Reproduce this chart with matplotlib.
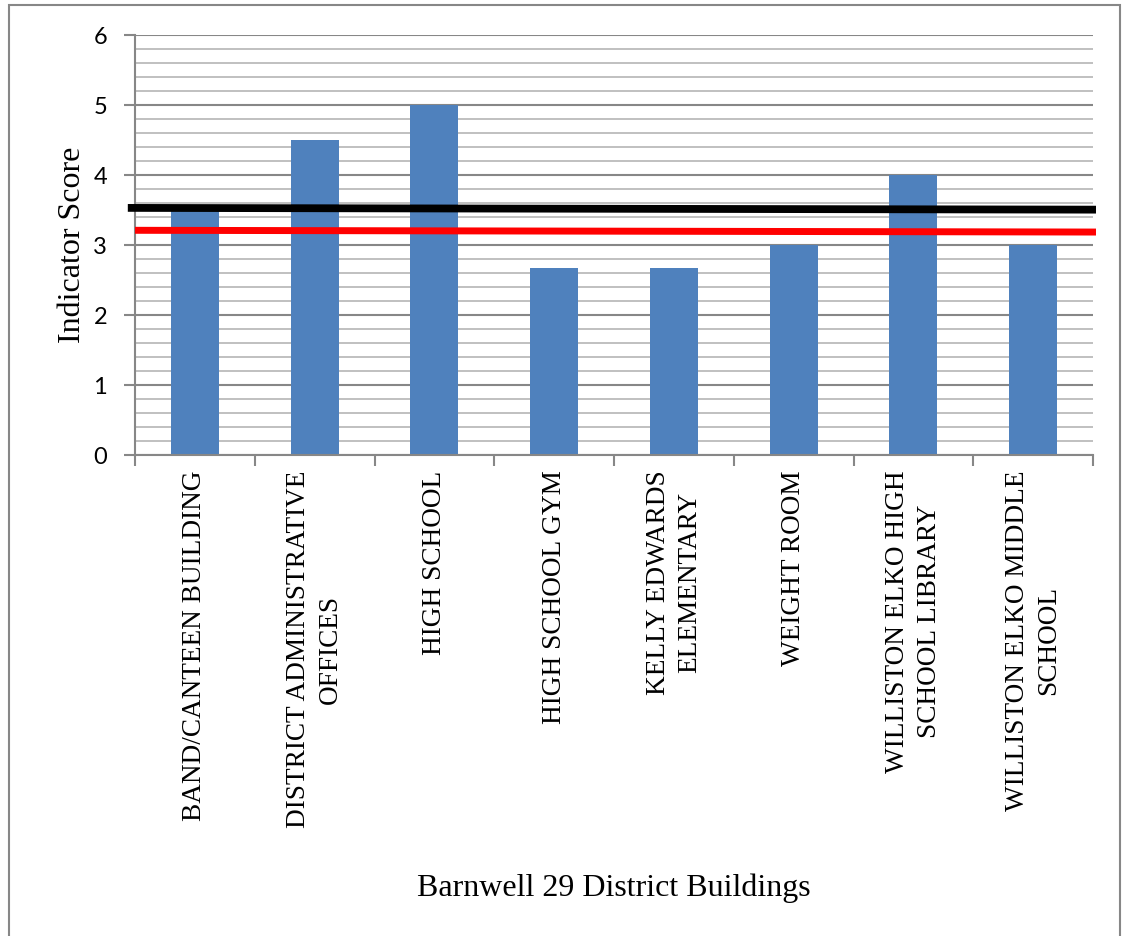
import matplotlib
matplotlib.use("Agg")
import matplotlib.pyplot as plt
from matplotlib.patches import Rectangle
from matplotlib.ticker import MultipleLocator, FixedLocator
import numpy as np

categories = [
    "BAND/CANTEEN BUILDING",
    "DISTRICT ADMINISTRATIVE\nOFFICES",
    "HIGH SCHOOL",
    "HIGH SCHOOL GYM",
    "KELLY EDWARDS\nELEMENTARY",
    "WEIGHT ROOM",
    "WILLISTON ELKO HIGH\nSCHOOL LIBRARY",
    "WILLISTON ELKO MIDDLE\nSCHOOL",
]
scores = [3.5, 4.5, 5.0, 2.67, 2.67, 3.0, 4.0, 3.0]
black_line = [3.53, 3.505]
red_line = [3.21, 3.185]
y_ticks = [0, 1, 2, 3, 4, 5, 6]

W, H = 1126, 936
fig = plt.figure(figsize=(W / 100, H / 100), dpi=100)
ax = fig.add_axes([135 / W, 1 - 455 / H, (1093 - 135) / W, (455 - 35) / H])

x = np.arange(len(categories))
ax.set_xlim(-0.5, len(categories) - 0.5)
ax.set_ylim(0, 6)

# grid
ax.yaxis.set_major_locator(FixedLocator(y_ticks))
ax.yaxis.set_minor_locator(MultipleLocator(0.2))
ax.grid(axis="y", which="minor", color="#C0C0C0", linewidth=1.4, zorder=0)
ax.grid(axis="y", which="major", color="#878787", linewidth=1.5, zorder=0)
ax.set_axisbelow(True)

ax.bar(x, scores, width=0.40, color="#4F81BD", zorder=2)

# reference lines
ax.plot([-0.56, 7.525], black_line, color="black", linewidth=5.6,
        solid_capstyle="butt", zorder=3, clip_on=False)
ax.plot([-0.5, 7.525], red_line, color="#FF0000", linewidth=5.0,
        solid_capstyle="butt", zorder=3, clip_on=False)

for s in ["top", "right"]:
    ax.spines[s].set_visible(False)
for s in ["left", "bottom"]:
    ax.spines[s].set_color("#878787")
    ax.spines[s].set_linewidth(1.5)

ax.set_yticks(y_ticks)
ax.set_yticklabels([str(v) for v in y_ticks], family="Lato", fontsize=17)
ax.tick_params(axis="y", which="major", length=8, width=1.5, color="#878787",
               pad=12, direction="out")
ax.tick_params(axis="y", which="minor", length=0)

ax.set_xticks(x)
ax.set_xticklabels(categories, rotation=90, family="Liberation Serif",
                   fontsize=19.6, multialignment="center", linespacing=1.35)
ax.xaxis.set_minor_locator(FixedLocator(np.arange(-0.5, len(categories), 1.0)))
ax.tick_params(axis="x", which="major", length=0, pad=11)
ax.tick_params(axis="x", which="minor", length=8, width=1.5, color="#878787",
               direction="out")

fig.text(72 / W, 1 - 245 / H, "Indicator Score", rotation=90, ha="center",
         va="center", family="Liberation Serif", fontsize=23)
fig.text(614 / W, 1 - 888 / H, "Barnwell 29 District Buildings", ha="center",
         va="center", family="Liberation Serif", fontsize=23)

# figure border
fig.patches.append(Rectangle((9 / W, -0.05), (1120 - 9) / W, 1 - 5 / H + 0.05,
                             transform=fig.transFigure, fill=False,
                             edgecolor="#878787", linewidth=1.5))

fig.savefig("out.png", dpi=100)
